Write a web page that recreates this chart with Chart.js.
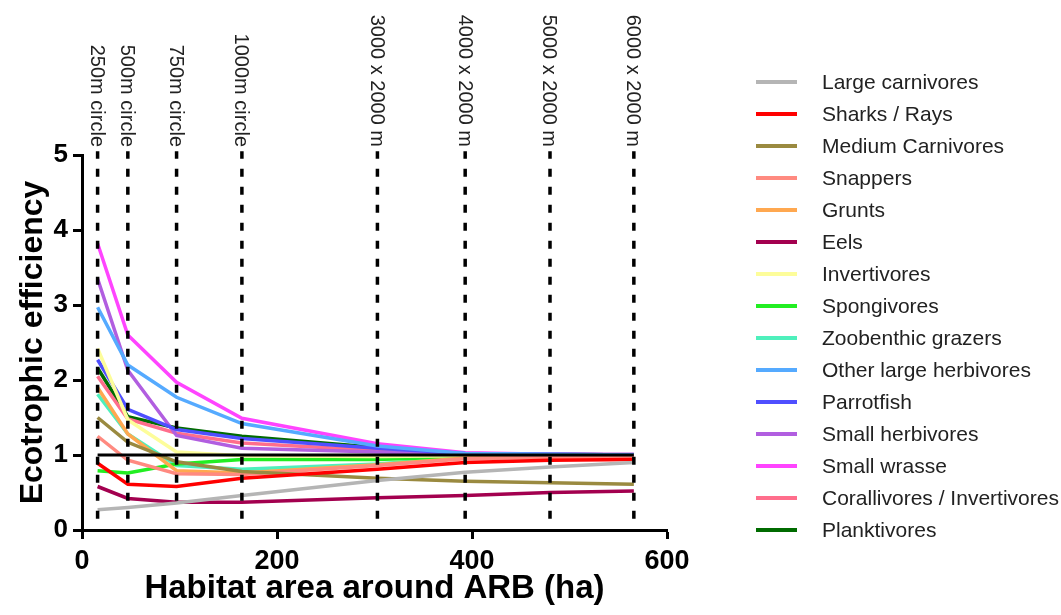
<!DOCTYPE html>
<html>
<head>
<meta charset="utf-8">
<script src="https://cdn.jsdelivr.net/npm/chart.js@4.4.0/dist/chart.umd.min.js"></script>
<style>
  body { margin: 0; background: #fff; }
  #wrap { width: 1061px; height: 615px; }
</style>
</head>
<body>
<div id="wrap"><canvas id="myChart"></canvas></div>
<script>
// habitat area of each scenario (ha), and its name
const areas = [16, 47, 97, 164, 303, 393, 480, 566];
const scenarioLabels = ["250m circle", "500m circle", "750m circle", "1000m circle",
  "3000 x 2000 m", "4000 x 2000 m", "5000 x 2000 m", "6000 x 2000 m"];

const groups = ["Large carnivores", "Sharks / Rays", "Medium Carnivores", "Snappers", "Grunts",
  "Eels", "Invertivores", "Spongivores", "Zoobenthic grazers", "Other large herbivores",
  "Parrotfish", "Small herbivores", "Small wrasse", "Corallivores / Invertivores", "Planktivores"];
const colors = ["#b5b5b5", "#ff0000", "#9a8a40", "#ff8a80", "#ffa850", "#a3004f", "#fdfd9a",
  "#22ee22", "#4ef0bc", "#55aaff", "#4f4fff", "#b15ee0", "#ff44ff", "#ff6e8c", "#006b00"];

// ecotrophic efficiency for each area above
const largeCarnivores = [0.27, 0.30, 0.36, 0.46, 0.66, 0.77, 0.84, 0.90];
const sharksRays = [0.89, 0.61, 0.58, 0.69, 0.81, 0.90, 0.93, 0.94];
const mediumCarnivores = [1.50, 1.17, 0.91, 0.78, 0.69, 0.65, 0.63, 0.61];
const snappers = [1.25, 0.93, 0.75, 0.74, 0.86, 0.95, 0.97, 0.97];
const grunts = [1.90, 1.28, 0.79, 0.76, 0.87, 0.96, 0.98, 0.98];
const eels = [0.58, 0.42, 0.37, 0.37, 0.43, 0.46, 0.50, 0.52];
const invertivores = [2.42, 1.47, 1.04, 0.99, 0.98, 0.99, 0.99, 0.99];
const spongivores = [0.79, 0.76, 0.88, 0.94, 0.94, 0.98, 0.99, 0.99];
const zoobenthicGrazers = [1.81, 1.28, 0.86, 0.81, 0.88, 0.97, 0.99, 0.99];
const otherLargeHerbivores = [2.97, 2.20, 1.77, 1.42, 1.12, 1.02, 1.01, 1.00];
const parrotfish = [2.27, 1.61, 1.34, 1.22, 1.09, 1.02, 1.01, 1.00];
const smallHerbivores = [3.35, 2.13, 1.26, 1.09, 1.04, 1.02, 1.01, 1.01];
const smallWrasse = [3.82, 2.60, 1.97, 1.49, 1.15, 1.03, 1.01, 1.00];
const corallivores = [2.05, 1.48, 1.29, 1.16, 1.06, 1.02, 1.01, 1.00];
const planktivores = [2.16, 1.51, 1.36, 1.25, 1.10, 1.02, 1.01, 1.00];

const series = [largeCarnivores, sharksRays, mediumCarnivores, snappers, grunts, eels,
  invertivores, spongivores, zoobenthicGrazers, otherLargeHerbivores, parrotfish,
  smallHerbivores, smallWrasse, corallivores, planktivores];

// EE = 1 reference and the vertical scenario markers
const refLevel = 1;
const markerBottom = 0.15;
const markerTop = 5.05;

const font = "'Liberation Sans', Arial, sans-serif";

const datasets = series.map((vals, i) => ({
  label: groups[i],
  data: vals.map((v, j) => ({ x: areas[j], y: v })),
  borderColor: colors[i],
  borderWidth: 3.5,
  pointRadius: 0,
  tension: 0,
}));

datasets.push({
  label: "ref",
  data: [{ x: areas[0], y: refLevel }, { x: areas[areas.length - 1], y: refLevel }],
  borderColor: "#000",
  borderWidth: 3,
  pointRadius: 0,
  order: -1,
});

const markerPts = [];
areas.forEach((a) => {
  markerPts.push({ x: a, y: markerBottom }, { x: a, y: markerTop }, { x: a, y: null });
});
datasets.push({
  label: "markers",
  data: markerPts,
  borderColor: "#000",
  borderWidth: 3.5,
  borderDash: [8, 10],
  pointRadius: 0,
  spanGaps: false,
  clip: false,
  order: -2,
});

// scenario names above the plot and the legend on the right
const extras = {
  id: "extras",
  afterDraw(chart) {
    const ctx = chart.ctx;
    const xs = chart.scales.x;
    const ys = chart.scales.y;
    ctx.save();
    ctx.fillStyle = "#222";
    ctx.font = "20px " + font;
    ctx.textAlign = "right";
    ctx.textBaseline = "middle";
    const top = ys.getPixelForValue(5) - 8;
    scenarioLabels.forEach((t, i) => {
      ctx.save();
      ctx.translate(xs.getPixelForValue(areas[i]) - 1, top);
      ctx.rotate(Math.PI / 2);
      ctx.fillText(t, 0, 0);
      ctx.restore();
    });

    ctx.textAlign = "left";
    ctx.font = "21px " + font;
    groups.forEach((g, i) => {
      const y = 82 + i * 32;
      ctx.strokeStyle = colors[i];
      ctx.lineWidth = 4;
      ctx.beginPath();
      ctx.moveTo(756, y);
      ctx.lineTo(797, y);
      ctx.stroke();
      ctx.fillText(g, 822, y + 1);
    });
    ctx.restore();
  },
};

const ctx = document.getElementById("myChart");
const myChart = new Chart(ctx, {
  type: "line",
  data: { datasets: datasets },
  options: {
    responsive: true,
    maintainAspectRatio: false,
    animation: false,
    layout: { padding: { left: 0, right: 394, top: 155, bottom: 0 } },
    plugins: {
      legend: { display: false },
      tooltip: { enabled: false },
    },
    scales: {
      x: {
        type: "linear",
        min: 0,
        max: 600,
        afterFit: (scale) => { scale.height = 85; },
        ticks: {
          stepSize: 200,
          color: "#000",
          padding: 6,
          font: { size: 27, weight: "bold", family: font },
        },
        grid: { drawOnChartArea: false, tickLength: 9, tickWidth: 3, tickColor: "#000" },
        border: { color: "#000", width: 3 },
        title: {
          display: true,
          text: "Habitat area around ARB (ha)",
          color: "#000",
          padding: { top: 0, bottom: 6 },
          font: { size: 33, weight: "bold", family: font },
        },
      },
      y: {
        min: 0,
        max: 5,
        afterFit: (scale) => { scale.width = 82; },
        ticks: {
          stepSize: 1,
          color: "#000",
          padding: 5,
          font: { size: 26, weight: "bold", family: font },
        },
        grid: { drawOnChartArea: false, tickLength: 9, tickWidth: 3, tickColor: "#000" },
        border: { color: "#000", width: 3 },
        title: {
          display: true,
          text: "Ecotrophic efficiency",
          color: "#000",
          padding: { top: 14, bottom: 0 },
          font: { size: 32, weight: "bold", family: font },
        },
      },
    },
  },
  plugins: [extras],
});
</script>
</body>
</html>
